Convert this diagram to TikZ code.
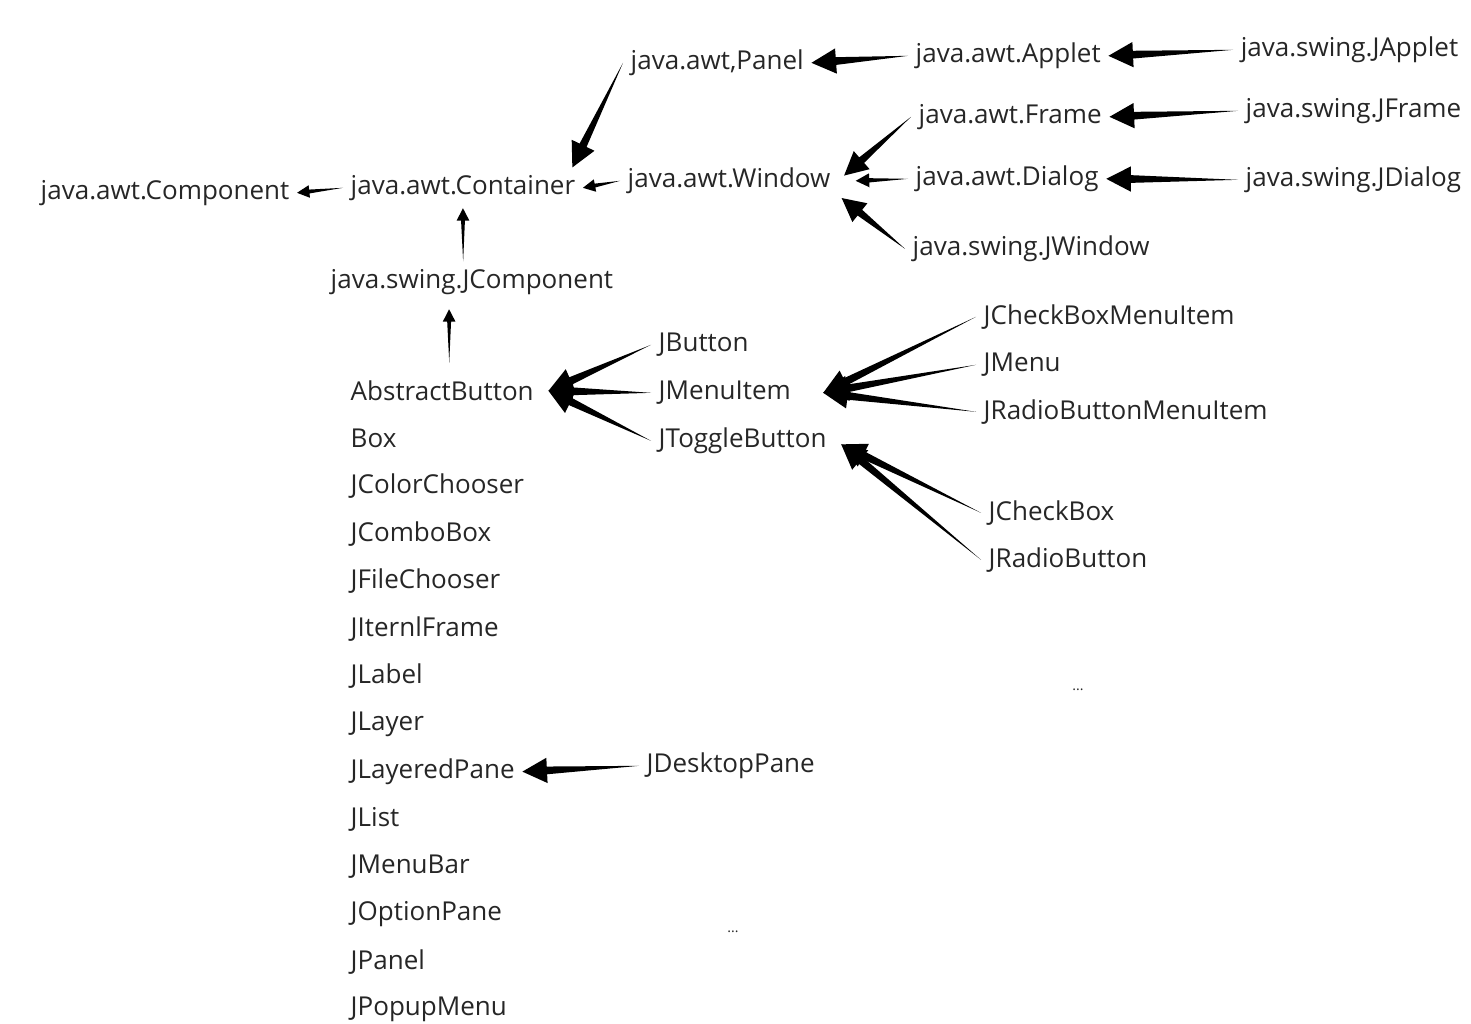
\documentclass[tikz,border=0pt]{standalone}
\usepackage{fontspec}
\setmainfont{Open Sans}
\usetikzlibrary{calc}

\newcommand{\taper}[3][1]{%
  \path (#2) coordinate (tpt) (#3) coordinate (tph);
  \path ($(tph)!#1*7pt!(tpt)$) coordinate (tpb);
  \fill [black] (tpt) -- ($(tpb)!#1*1.1pt!90:(tph)$) -- ($(tpb)!#1*3.6pt!90:(tph)$) -- (tph)
    -- ($(tpb)!#1*3.6pt!-90:(tph)$) -- ($(tpb)!#1*1.1pt!-90:(tph)$) -- cycle;}

\begin{document}
\begin{tikzpicture}[x=0.1mm, y=0.1mm]
\tikzstyle{every node}+=[inner sep=2pt]
\tikzstyle{cls}=[anchor=west, yshift=-0.8pt, text=black!85, font=\fontsize{7.4}{9}\selectfont]
\tikzstyle{dots}=[text=black!85, font=\fontsize{4}{5}\selectfont]
\useasboundingbox (0,0) rectangle (1471,-1023);
\node [cls] (component) at (33,-190) {java.awt.Component};
\node [cls] (container) at (343,-185) {java.awt.Container};
\node [cls] (window) at (620,-178) {java.awt.Window};
\node [cls] (panel) at (623,-60) {java.awt,Panel};
\node [cls] (applet) at (908,-53) {java.awt.Applet};
\node [cls] (japplet) at (1233,-47) {java.swing.JApplet};
\node [cls] (frame) at (911,-114) {java.awt.Frame};
\node [cls] (jframe) at (1238,-108) {java.swing.JFrame};
\node [cls] (dialog) at (908,-176) {java.awt.Dialog};
\node [cls] (jdialog) at (1238,-177) {java.swing.JDialog};
\node [cls] (jwindow) at (905,-246) {java.swing.JWindow};
\node [cls] (jcomponent) at (323,-279) {java.swing.JComponent};
\foreach \nm/\txt [count=\i] in {abstractbutton/AbstractButton, box/Box,
    colorchooser/JColorChooser, combobox/JComboBox, filechooser/JFileChooser,
    iternlframe/JIternlFrame, label/JLabel, layer/JLayer, layeredpane/JLayeredPane,
    list/JList, menubar/JMenuBar, optionpane/JOptionPane, jpanel/JPanel,
    popupmenu/JPopupMenu}
  \node [cls] (\nm) at (343,{-388-(\i-1)*47.6}) {\txt};
\node [cls] (jbutton) at (651,-342) {JButton};
\node [cls] (jmenuitem) at (651,-390) {JMenuItem};
\node [cls] (jtogglebutton) at (651,-438) {JToggleButton};
\node [cls] (jcheckboxmenuitem) at (976,-314) {JCheckBoxMenuItem};
\node [cls] (jmenu) at (976,-362) {JMenu};
\node [cls] (jradiobuttonmenuitem) at (976,-409) {JRadioButtonMenuItem};
\node [cls] (jcheckbox) at (981,-510) {JCheckBox};
\node [cls] (jradiobutton) at (981,-557) {JRadioButton};
\node [cls] (jdesktoppane) at (639,-763) {JDesktopPane};
\node [dots] (dots1) at (1078,-690) {...};
\node [dots] (dots2) at (733,-932) {...};
\taper{japplet.west}{applet.east}
\taper{applet.west}{panel.east}
\taper{jframe.west}{frame.east}
\taper{jdialog.west}{dialog.east}
\taper[0.95]{frame.west}{[xshift=1.7pt,yshift=1.5pt]window.east}
\taper[0.55]{dialog.west}{[xshift=5pt]window.east}
\taper[0.95]{jwindow.west}{[xshift=1pt,yshift=1pt]window.south east}
\taper{panel.west}{[xshift=-3pt]container.north east}
\taper[0.5]{window.west}{container.east}
\taper[0.5]{container.west}{component.east}
\taper[0.5]{[xshift=-2.5pt]jcomponent.north}{container.south}
\taper[0.5]{[xshift=2pt,yshift=3pt]abstractbutton.north}{[xshift=-6.5pt,yshift=-2pt]jcomponent.south}
\taper{jbutton.west}{[xshift=2pt]abstractbutton.east}
\taper{jmenuitem.west}{[xshift=2pt]abstractbutton.east}
\taper{jtogglebutton.west}{[xshift=2pt]abstractbutton.east}
\taper{jcheckboxmenuitem.west}{[xshift=7pt]jmenuitem.east}
\taper{jmenu.west}{[xshift=7pt]jmenuitem.east}
\taper{jradiobuttonmenuitem.west}{[xshift=7pt]jmenuitem.east}
\taper{jcheckbox.west}{[xshift=2pt,yshift=-1pt]jtogglebutton.east}
\taper{jradiobutton.west}{[xshift=2pt,yshift=-1pt]jtogglebutton.east}
\taper{jdesktoppane.west}{layeredpane.east}
\end{tikzpicture}
\end{document}
